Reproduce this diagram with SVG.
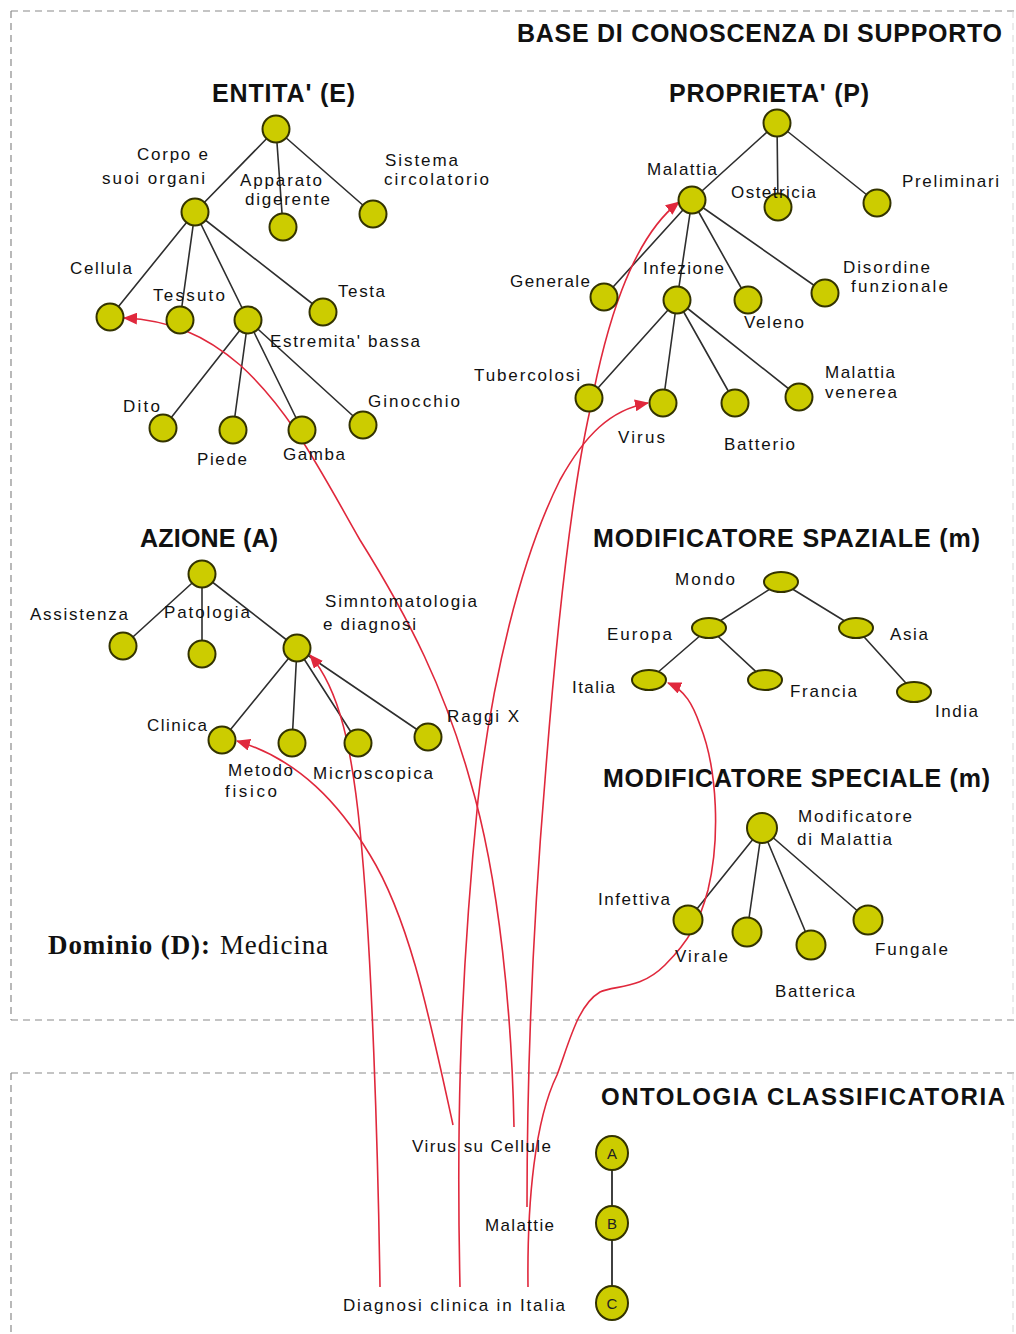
<svg xmlns="http://www.w3.org/2000/svg" width="1016" height="1334" viewBox="0 0 1016 1334">
<defs>
<style>
.bg{fill:#ffffff}
.dash{fill:none;stroke:#8a8a8a;stroke-width:1.2;stroke-dasharray:7 5}
.dashf{fill:none;stroke:#d8d8d8;stroke-width:1;stroke-dasharray:7 5}
.edge{stroke:#2e2e2e;stroke-width:1.6;fill:none}
.link{stroke:#e0283c;stroke-width:1.6;fill:none;marker-end:url(#arr)}
.linkn{stroke:#e0283c;stroke-width:1.6;fill:none}
.n{fill:#cccc00;stroke:#333300;stroke-width:2}
.lbl{font-family:"Liberation Sans",Arial,sans-serif;font-size:17px;fill:#111}
.hd{font-family:"Liberation Sans",Arial,sans-serif;font-size:25px;font-weight:bold;fill:#111}
.let{font-family:"Liberation Sans",Arial,sans-serif;font-size:15px;fill:#222;text-anchor:middle}
.dom{font-family:"Liberation Serif","Times New Roman",serif;font-size:27px;fill:#111}
</style>
<marker id="arr" markerUnits="userSpaceOnUse" markerWidth="14" markerHeight="12" refX="13" refY="6" orient="auto">
<path d="M0,0 L14,6 L0,12 z" fill="#e0283c"/>
</marker>
</defs>
<rect class="bg" x="0" y="0" width="1016" height="1334"/>

<g id="frames">
<path class="dash" d="M11,11 H1016 M11,11 V1020 M11,1020 H1016 M11,1073 H1016 M11,1073 V1334"/>
<path class="dashf" d="M1013,11 V1020 M1013,1073 V1334"/>
</g>

<g id="titles">
<text class="hd" x="517" y="42" textLength="485" lengthAdjust="spacing">BASE DI CONOSCENZA DI SUPPORTO</text>
<text class="hd" x="212" y="102" textLength="143" lengthAdjust="spacing">ENTITA' (E)</text>
<text class="hd" x="669" y="102" textLength="200" lengthAdjust="spacing">PROPRIETA' (P)</text>
<text class="hd" x="140" y="547" textLength="138" lengthAdjust="spacing">AZIONE (A)</text>
<text class="hd" x="593" y="547" textLength="387" lengthAdjust="spacing">MODIFICATORE SPAZIALE (m)</text>
<text class="hd" x="603" y="787" textLength="387" lengthAdjust="spacing">MODIFICATORE SPECIALE (m)</text>
<text class="hd" x="601" y="1105" style="font-size:24px" textLength="404" lengthAdjust="spacing">ONTOLOGIA CLASSIFICATORIA</text>
<text class="dom" x="48" y="954" font-weight="bold" textLength="162" lengthAdjust="spacing">Dominio (D):</text>
<text class="dom" x="220" y="954" textLength="108" lengthAdjust="spacing">Medicina</text>
</g>

<g id="connectors">
<g id="tree-edges">
<!-- ENTITA -->
<path class="edge" d="M276,129 L195,212 M276,129 L283,227 M276,129 L373,214"/>
<path class="edge" d="M195,212 L110,317 M195,212 L180,320 M195,212 L248,320 M195,212 L323,312"/>
<path class="edge" d="M248,320 L163,428 M248,320 L233,430 M248,320 L302,430 M248,320 L363,425"/>
<!-- PROPRIETA -->
<path class="edge" d="M777,123 L692,200 M777,123 L778,207 M777,123 L877,203"/>
<path class="edge" d="M692,200 L604,297 M692,200 L677,300 M692,200 L748,300 M692,200 L825,293"/>
<path class="edge" d="M677,300 L589,398 M677,300 L663,403 M677,300 L735,403 M677,300 L799,397"/>
<!-- AZIONE -->
<path class="edge" d="M202,574 L123,646 M202,574 L202,654 M202,574 L297,648"/>
<path class="edge" d="M297,648 L222,740 M297,648 L292,743 M297,648 L358,743 M297,648 L428,737"/>
<!-- SPAZIALE -->
<path class="edge" d="M781,582 L709,628 M781,582 L856,628 M709,628 L649,680 M709,628 L765,680 M856,628 L914,692"/>
<!-- SPECIALE -->
<path class="edge" d="M762,828 L688,920 M762,828 L747,932 M762,828 L811,945 M762,828 L868,920"/>
<!-- ONTOLOGIA -->
<path class="edge" d="M612,1153 L612,1303" style="stroke:#111"/>
</g>
<g id="mapping-links">
<path class="link" d="M514,1127 C512,1020 500,880 470,780 C445,690 410,620 360,540 C320,470 290,410 240,365 C205,335 170,320 124,318"/>
<path class="link" d="M460,1287 C457,1150 458,1000 478,800 C492,680 520,560 560,480 C585,435 610,410 648,403"/>
<path class="link" d="M527,1207 C527,1050 535,900 545,780 C555,650 570,500 590,410 C605,330 630,240 679,202"/>
<path class="link" d="M528,1287 C527,1200 535,1120 557,1075 C570,1040 578,1005 600,992 C615,985 640,990 665,965 C690,940 700,920 708,890 C720,840 718,770 700,725 C693,705 685,690 668,683"/>
<path class="link" d="M380,1287 C378,1150 372,950 360,830 C352,750 340,690 310,655"/>
<path class="link" d="M453,1125 C430,1020 410,920 370,855 C340,805 300,760 237,741"/>
</g>
</g>

<!-- ENTITA nodes -->
<g id="E-root"><circle class="n" cx="276" cy="129" r="13.5"/></g>
<g id="E-corpo"><circle class="n" cx="195" cy="212" r="13.5"/>
<text class="lbl" x="137" y="160" textLength="71" lengthAdjust="spacing">Corpo e</text>
<text class="lbl" x="102" y="184" textLength="103" lengthAdjust="spacing">suoi organi</text></g>
<g id="E-apparato"><circle class="n" cx="283" cy="227" r="13.5"/>
<text class="lbl" x="240" y="186" textLength="82" lengthAdjust="spacing">Apparato</text>
<text class="lbl" x="245" y="205" textLength="85" lengthAdjust="spacing">digerente</text></g>
<g id="E-sistema"><circle class="n" cx="373" cy="214" r="13.5"/>
<text class="lbl" x="385" y="166" textLength="73" lengthAdjust="spacing">Sistema</text>
<text class="lbl" x="384" y="185" textLength="105" lengthAdjust="spacing">circolatorio</text></g>
<g id="E-cellula"><circle class="n" cx="110" cy="317" r="13.5"/>
<text class="lbl" x="70" y="274" textLength="62" lengthAdjust="spacing">Cellula</text></g>
<g id="E-tessuto"><circle class="n" cx="180" cy="320" r="13.5"/>
<text class="lbl" x="153" y="301" textLength="72" lengthAdjust="spacing">Tessuto</text></g>
<g id="E-estremita"><circle class="n" cx="248" cy="320" r="13.5"/>
<text class="lbl" x="270" y="347" textLength="150" lengthAdjust="spacing">Estremita' bassa</text></g>
<g id="E-testa"><circle class="n" cx="323" cy="312" r="13.5"/>
<text class="lbl" x="338" y="297" textLength="47" lengthAdjust="spacing">Testa</text></g>
<g id="E-dito"><circle class="n" cx="163" cy="428" r="13.5"/>
<text class="lbl" x="123" y="412" textLength="37" lengthAdjust="spacing">Dito</text></g>
<g id="E-piede"><circle class="n" cx="233" cy="430" r="13.5"/>
<text class="lbl" x="197" y="465" textLength="50" lengthAdjust="spacing">Piede</text></g>
<g id="E-gamba"><circle class="n" cx="302" cy="430" r="13.5"/>
<text class="lbl" x="283" y="460" textLength="62" lengthAdjust="spacing">Gamba</text></g>
<g id="E-ginocchio"><circle class="n" cx="363" cy="425" r="13.5"/>
<text class="lbl" x="368" y="407" textLength="92" lengthAdjust="spacing">Ginocchio</text></g>

<!-- PROPRIETA nodes -->
<g id="P-root"><circle class="n" cx="777" cy="123" r="13.5"/></g>
<g id="P-malattia"><circle class="n" cx="692" cy="200" r="13.5"/>
<text class="lbl" x="647" y="175" textLength="70" lengthAdjust="spacing">Malattia</text></g>
<g id="P-ostetricia"><circle class="n" cx="778" cy="207" r="13.5"/>
<text class="lbl" x="731" y="198" textLength="85" lengthAdjust="spacing">Ostetricia</text></g>
<g id="P-preliminari"><circle class="n" cx="877" cy="203" r="13.5"/>
<text class="lbl" x="902" y="187" textLength="97" lengthAdjust="spacing">Preliminari</text></g>
<g id="P-generale"><circle class="n" cx="604" cy="297" r="13.5"/>
<text class="lbl" x="510" y="287" textLength="80" lengthAdjust="spacing">Generale</text></g>
<g id="P-infezione"><circle class="n" cx="677" cy="300" r="13.5"/>
<text class="lbl" x="643" y="274" textLength="81" lengthAdjust="spacing">Infezione</text></g>
<g id="P-veleno"><circle class="n" cx="748" cy="300" r="13.5"/>
<text class="lbl" x="744" y="328" textLength="60" lengthAdjust="spacing">Veleno</text></g>
<g id="P-disordine"><circle class="n" cx="825" cy="293" r="13.5"/>
<text class="lbl" x="843" y="273" textLength="87" lengthAdjust="spacing">Disordine</text>
<text class="lbl" x="851" y="292" textLength="97" lengthAdjust="spacing">funzionale</text></g>
<g id="P-tubercolosi"><circle class="n" cx="589" cy="398" r="13.5"/>
<text class="lbl" x="474" y="381" textLength="106" lengthAdjust="spacing">Tubercolosi</text></g>
<g id="P-virus"><circle class="n" cx="663" cy="403" r="13.5"/>
<text class="lbl" x="618" y="443" textLength="47" lengthAdjust="spacing">Virus</text></g>
<g id="P-batterio"><circle class="n" cx="735" cy="403" r="13.5"/>
<text class="lbl" x="724" y="450" textLength="71" lengthAdjust="spacing">Batterio</text></g>
<g id="P-venerea"><circle class="n" cx="799" cy="397" r="13.5"/>
<text class="lbl" x="825" y="378" textLength="70" lengthAdjust="spacing">Malattia</text>
<text class="lbl" x="825" y="398" textLength="72" lengthAdjust="spacing">venerea</text></g>

<!-- AZIONE nodes -->
<g id="A-root"><circle class="n" cx="202" cy="574" r="13.5"/></g>
<g id="A-assistenza"><circle class="n" cx="123" cy="646" r="13.5"/>
<text class="lbl" x="30" y="620" textLength="98" lengthAdjust="spacing">Assistenza</text></g>
<g id="A-patologia"><circle class="n" cx="202" cy="654" r="13.5"/>
<text class="lbl" x="164" y="618" textLength="86" lengthAdjust="spacing">Patologia</text></g>
<g id="A-simntomatologia"><circle class="n" cx="297" cy="648" r="13.5"/>
<text class="lbl" x="325" y="607" textLength="152" lengthAdjust="spacing">Simntomatologia</text>
<text class="lbl" x="323" y="630" textLength="93" lengthAdjust="spacing">e diagnosi</text></g>
<g id="A-clinica"><circle class="n" cx="222" cy="740" r="13.5"/>
<text class="lbl" x="147" y="731" textLength="60" lengthAdjust="spacing">Clinica</text></g>
<g id="A-metodo"><circle class="n" cx="292" cy="743" r="13.5"/>
<text class="lbl" x="228" y="776" textLength="65" lengthAdjust="spacing">Metodo</text>
<text class="lbl" x="225" y="797" textLength="52" lengthAdjust="spacing">fisico</text></g>
<g id="A-microscopica"><circle class="n" cx="358" cy="743" r="13.5"/>
<text class="lbl" x="313" y="779" textLength="120" lengthAdjust="spacing">Microscopica</text></g>
<g id="A-raggix"><circle class="n" cx="428" cy="737" r="13.5"/>
<text class="lbl" x="447" y="722" textLength="72" lengthAdjust="spacing">Raggi X</text></g>

<!-- MODIFICATORE SPAZIALE nodes -->
<g id="S-mondo"><ellipse class="n" cx="781" cy="582" rx="17" ry="10"/>
<text class="lbl" x="675" y="585" textLength="60" lengthAdjust="spacing">Mondo</text></g>
<g id="S-europa"><ellipse class="n" cx="709" cy="628" rx="17" ry="10"/>
<text class="lbl" x="607" y="640" textLength="65" lengthAdjust="spacing">Europa</text></g>
<g id="S-asia"><ellipse class="n" cx="856" cy="628" rx="17" ry="10"/>
<text class="lbl" x="890" y="640" textLength="38" lengthAdjust="spacing">Asia</text></g>
<g id="S-italia"><ellipse class="n" cx="649" cy="680" rx="17" ry="10"/>
<text class="lbl" x="572" y="693" textLength="43" lengthAdjust="spacing">Italia</text></g>
<g id="S-francia"><ellipse class="n" cx="765" cy="680" rx="17" ry="10"/>
<text class="lbl" x="790" y="697" textLength="67" lengthAdjust="spacing">Francia</text></g>
<g id="S-india"><ellipse class="n" cx="914" cy="692" rx="17" ry="10"/>
<text class="lbl" x="935" y="717" textLength="43" lengthAdjust="spacing">India</text></g>

<!-- MODIFICATORE SPECIALE nodes -->
<g id="M-root"><circle class="n" cx="762" cy="828" r="15"/>
<text class="lbl" x="798" y="822" textLength="114" lengthAdjust="spacing">Modificatore</text>
<text class="lbl" x="797" y="845" textLength="95" lengthAdjust="spacing">di Malattia</text></g>
<g id="M-infettiva"><circle class="n" cx="688" cy="920" r="14.5"/>
<text class="lbl" x="598" y="905" textLength="72" lengthAdjust="spacing">Infettiva</text></g>
<g id="M-virale"><circle class="n" cx="747" cy="932" r="14.5"/>
<text class="lbl" x="675" y="962" textLength="53" lengthAdjust="spacing">Virale</text></g>
<g id="M-batterica"><circle class="n" cx="811" cy="945" r="14.5"/>
<text class="lbl" x="775" y="997" textLength="80" lengthAdjust="spacing">Batterica</text></g>
<g id="M-fungale"><circle class="n" cx="868" cy="920" r="14.5"/>
<text class="lbl" x="875" y="955" textLength="73" lengthAdjust="spacing">Fungale</text></g>

<!-- ONTOLOGIA nodes -->
<g id="O-A"><ellipse class="n" cx="612" cy="1153" rx="16" ry="17"/>
<text class="let" x="612" y="1159">A</text>
<text class="lbl" x="412" y="1152" textLength="139" lengthAdjust="spacing">Virus su Cellule</text></g>
<g id="O-B"><ellipse class="n" cx="612" cy="1223" rx="16" ry="17"/>
<text class="let" x="612" y="1229">B</text>
<text class="lbl" x="485" y="1231" textLength="69" lengthAdjust="spacing">Malattie</text></g>
<g id="O-C"><ellipse class="n" cx="612" cy="1303" rx="16" ry="17"/>
<text class="let" x="612" y="1309">C</text>
<text class="lbl" x="343" y="1311" textLength="222" lengthAdjust="spacing">Diagnosi clinica in Italia</text></g>
</svg>
